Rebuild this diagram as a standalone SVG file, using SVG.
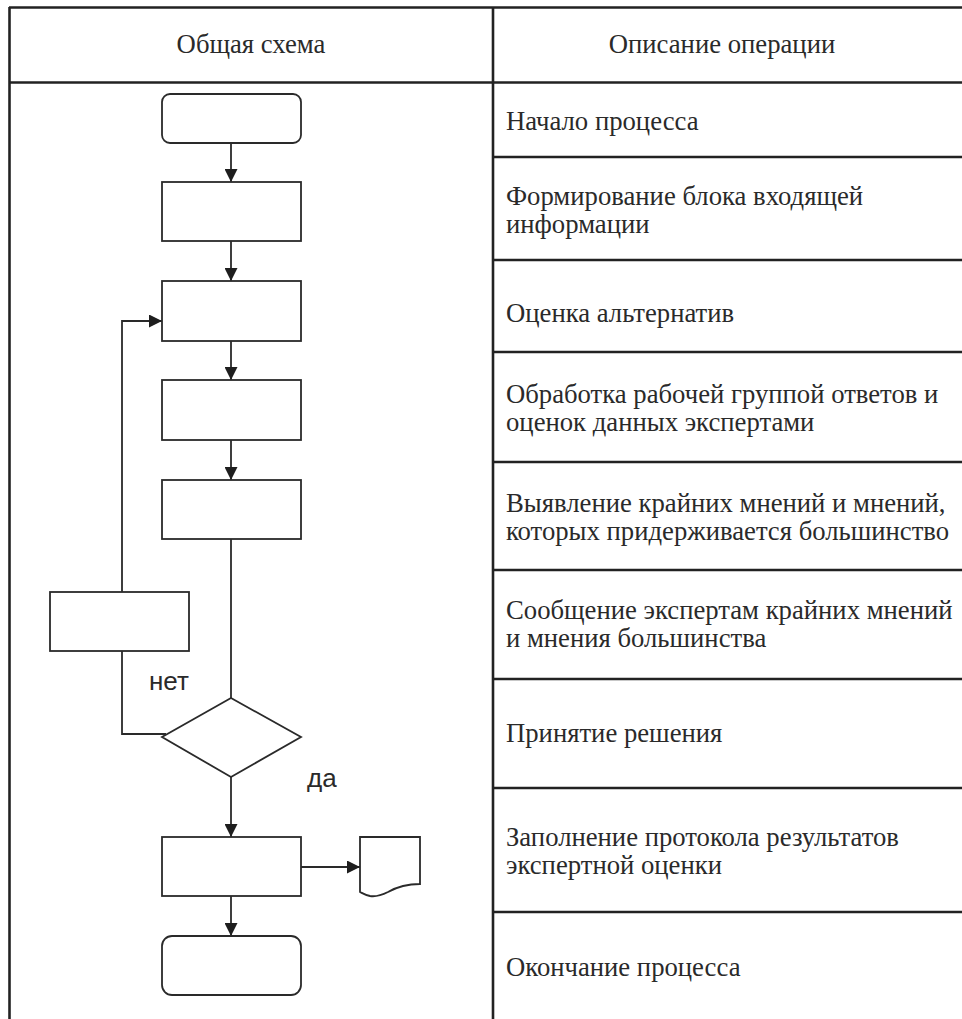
<svg xmlns="http://www.w3.org/2000/svg" width="962" height="1019" viewBox="0 0 962 1019">
<defs>
<style>
.tbl{stroke:#222;stroke-width:2.6;fill:none}
.shape{stroke:#2a2a2a;stroke-width:1.8;fill:#fff}
.conn{stroke:#2a2a2a;stroke-width:1.8;fill:none}
.hd,.desc{font-family:"Liberation Serif","Times New Roman",serif;font-size:26.7px;fill:#2a2a2a}
.hd{text-anchor:middle}
.lbl{font-family:"Liberation Sans",Arial,sans-serif;font-size:26px;fill:#2a2a2a}
</style>
<marker id="arr" markerUnits="userSpaceOnUse" markerWidth="13" markerHeight="13" refX="13" refY="6.5" orient="auto">
<path d="M0,0 L13,6.5 L0,13 Z" fill="#1e1e1e"/>
</marker>
</defs>
<rect width="962" height="1019" fill="#fff"/>

<g id="table">
<line class="tbl" x1="9" y1="7.5" x2="962" y2="7.5"/>
<line class="tbl" x1="9.5" y1="7" x2="9.5" y2="1019"/>
<line class="tbl" x1="493" y1="7" x2="493" y2="1019"/>
<line class="tbl" x1="9" y1="82.5" x2="962" y2="82.5"/>
<line class="tbl" x1="493" y1="157" x2="962" y2="157"/>
<line class="tbl" x1="493" y1="260" x2="962" y2="260"/>
<line class="tbl" x1="493" y1="352" x2="962" y2="352"/>
<line class="tbl" x1="493" y1="462" x2="962" y2="462"/>
<line class="tbl" x1="493" y1="570" x2="962" y2="570"/>
<line class="tbl" x1="493" y1="679" x2="962" y2="679"/>
<line class="tbl" x1="493" y1="788" x2="962" y2="788"/>
<line class="tbl" x1="493" y1="912" x2="962" y2="912"/>
<text class="hd" x="251" y="53">Общая схема</text>
<text class="hd" x="722" y="53">Описание операции</text>
</g>

<g id="descriptions">
<text class="desc" x="506" y="130">Начало процесса</text>
<text class="desc" x="506" y="205">Формирование блока входящей</text>
<text class="desc" x="506" y="233">информации</text>
<text class="desc" x="506" y="322">Оценка альтернатив</text>
<text class="desc" x="506" y="403">Обработка рабочей группой ответов и</text>
<text class="desc" x="506" y="431">оценок данных экспертами</text>
<text class="desc" x="506" y="512">Выявление крайних мнений и мнений,</text>
<text class="desc" x="506" y="540">которых придерживается большинство</text>
<text class="desc" x="506" y="619">Сообщение экспертам крайних мнений</text>
<text class="desc" x="506" y="647">и мнения большинства</text>
<text class="desc" x="506" y="742">Принятие решения</text>
<text class="desc" x="506" y="846">Заполнение протокола результатов</text>
<text class="desc" x="506" y="874">экспертной оценки</text>
<text class="desc" x="506" y="976">Окончание процесса</text>
</g>

<g id="connectors">
<line class="conn" x1="231" y1="143" x2="231" y2="182" marker-end="url(#arr)"/>
<line class="conn" x1="231" y1="241" x2="231" y2="281" marker-end="url(#arr)"/>
<line class="conn" x1="231" y1="341" x2="231" y2="380" marker-end="url(#arr)"/>
<line class="conn" x1="231" y1="440" x2="231" y2="480" marker-end="url(#arr)"/>
<line class="conn" x1="231" y1="539" x2="231" y2="698"/>
<polyline class="conn" points="166,734 122,734 122,651"/>
<polyline class="conn" points="122,592 122,321 162,321" marker-end="url(#arr)"/>
<line class="conn" x1="231" y1="777" x2="231" y2="837" marker-end="url(#arr)"/>
<line class="conn" x1="301" y1="867" x2="360" y2="867" marker-end="url(#arr)"/>
<line class="conn" x1="231" y1="896" x2="231" y2="936" marker-end="url(#arr)"/>
<text class="lbl" x="149" y="690">нет</text>
<text class="lbl" x="307" y="787">да</text>
</g>

<g id="start"><rect class="shape" x="162" y="94" width="139" height="49" rx="8"/></g>
<g id="form-block"><rect class="shape" x="162" y="182" width="139" height="59"/></g>
<g id="evaluate"><rect class="shape" x="162" y="281" width="139" height="60"/></g>
<g id="process"><rect class="shape" x="162" y="380" width="139" height="60"/></g>
<g id="identify"><rect class="shape" x="162" y="480" width="139" height="59"/></g>
<g id="inform"><rect class="shape" x="50" y="592" width="139" height="59"/></g>
<g id="decision"><polygon class="shape" points="231,698 301,737 231,777 162,737"/></g>
<g id="protocol"><rect class="shape" x="162" y="837" width="139" height="59"/></g>
<g id="document"><path class="shape" d="M360,837 L420,837 L420,884 C405,884 395,888 388,892 C382,895 376,897 370,896 C365,895 362,893 360,892 Z"/></g>
<g id="end"><rect class="shape" x="162" y="936" width="139" height="59" rx="10"/></g>
</svg>
